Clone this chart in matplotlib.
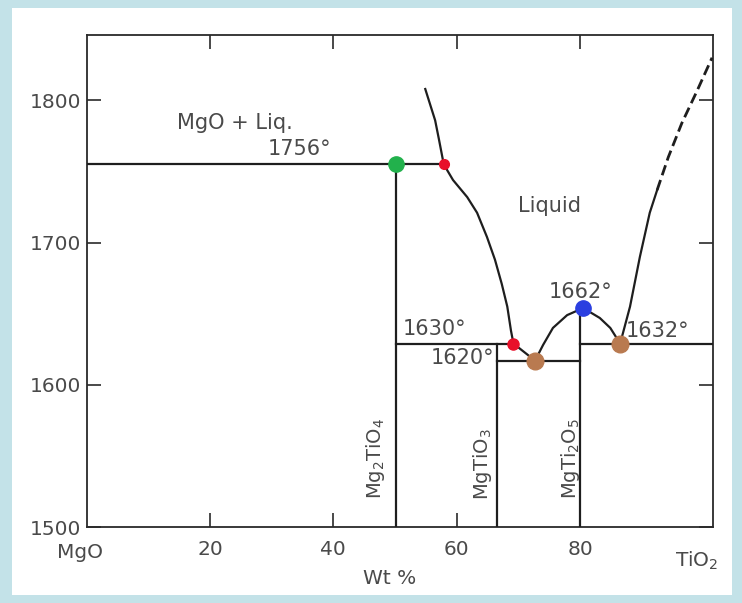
import matplotlib
matplotlib.use("Agg")
import matplotlib.pyplot as plt
from matplotlib.patches import Rectangle

# ---- data (wt% TiO2, temperature °C) ----
xticks_vals = [20, 40, 60, 80]
xtick_labels = ["20", "40", "60", "80"]
yticks_vals = [1500, 1600, 1700, 1800]
ytick_labels = ["1500", "1600", "1700", "1800"]

# MgO-side liquidus (solid line)
liq_left_x = [54.9, 55.7, 56.5, 57.1, 57.9, 59.4, 61.7, 63.3, 64.9, 66.2, 67.3,
              68.2, 68.8, 69.2, 72.7]
liq_left_y = [1808, 1797, 1786, 1773, 1755, 1744, 1732, 1721, 1704, 1688, 1671,
              1655, 1638, 1629, 1617]
# MgTi2O5 dome
dome_x = [72.7, 74.0, 75.6, 77.9, 80.5, 83.2, 84.9, 86.5]
dome_y = [1617, 1628, 1640, 1649, 1654, 1647, 1640, 1629]
# TiO2-side liquidus (solid and dashed)
liq_right_x = [86.5, 88.1, 89.7, 91.3, 92.5]
liq_right_y = [1629, 1655, 1690, 1721, 1737]
liq_dash_x = [92.5, 94.3, 96.5, 99.0, 101.4]
liq_dash_y = [1737, 1760, 1784, 1807, 1830]

# isotherms: (x_start, x_end, T)
iso_1756 = (0, 57.9, 1755)
iso_1630 = (50.2, 69.2, 1629)
iso_1620 = (66.6, 80.0, 1617)
iso_1632 = (80.0, 101.6, 1629)

# compound verticals: (x, T_top)
comp_names = ["Mg$_2$TiO$_4$", "MgTiO$_3$", "MgTi$_2$O$_5$"]
comp_x = [50.2, 66.6, 80.0]
comp_top = [1755, 1629, 1654]

# colored points
pt_x = [50.2, 57.9, 69.2, 72.7, 80.5, 86.5]
pt_y = [1755, 1755, 1629, 1617, 1654, 1629]
pt_c = ["#22b14c", "#e8102a", "#e8102a", "#b97a50", "#2b3fe0", "#b97a50"]
pt_s = [11, 7, 8, 12, 11, 12]

# annotations
ann_text = ["MgO + Liq.", "1756°", "Liquid", "1662°", "1630°", "1620°", "1632°"]
ann_x = [24.0, 34.5, 75.0, 80.0, 56.4, 61.0, 92.5]
ann_y = [1784, 1766, 1726, 1665, 1639, 1619, 1638]

# ---- figure ----
fig = plt.figure(figsize=(7.42, 6.03), dpi=100)
fig.patch.set_facecolor("#c3e2e8")
fig.patches.append(Rectangle((12 / 742, 8 / 603), (732 - 12) / 742, (595 - 8) / 603,
                             transform=fig.transFigure, facecolor="white",
                             edgecolor="none", zorder=-10))

ax = fig.add_axes([0.1168, 0.1260, 0.8445, 0.8160])
ax.set_zorder(5)
ax.set_facecolor("white")
ax.set_xlim(0, 101.6)
ax.set_ylim(1500, 1846)

lc = "#1e1e1e"
lw = 1.6
tc = "#4a4a4a"

for s in ax.spines.values():
    s.set_linewidth(1.3)
    s.set_color("#2a2a2a")

ax.set_xticks(xticks_vals)
ax.set_xticklabels(xtick_labels)
ax.set_yticks(yticks_vals)
ax.set_yticklabels(ytick_labels)
ax.tick_params(axis="both", direction="in", length=10, width=1.2, color="#2a2a2a",
               labelsize=14.5, labelcolor=tc, top=True, right=True)
ax.tick_params(axis="x", pad=9)
ax.tick_params(axis="y", pad=4)

# curves
ax.plot(liq_left_x, liq_left_y, color=lc, lw=lw, zorder=3)
ax.plot(dome_x, dome_y, color=lc, lw=lw, zorder=3)
ax.plot(liq_right_x, liq_right_y, color=lc, lw=lw, zorder=3)
ax.plot(liq_dash_x, liq_dash_y, color=lc, lw=2.0, dashes=(3.8, 1.8), zorder=3)

for (x0, x1, t) in [iso_1756, iso_1630, iso_1620, iso_1632]:
    ax.plot([x0, x1], [t, t], color=lc, lw=lw, zorder=3)

for x, top in zip(comp_x, comp_top):
    ax.plot([x, x], [1500, top], color=lc, lw=lw, zorder=3)

for x, y, c, s in zip(pt_x, pt_y, pt_c, pt_s):
    ax.plot([x], [y], marker="o", ms=s, color=c, mec=c, zorder=5, linestyle="none")

for t, x, y in zip(ann_text, ann_x, ann_y):
    ax.text(x, y, t, ha="center", va="center", fontsize=15, color=tc)

comp_label_x = [46.8, 64.1, 78.4]
comp_label_y = [1548, 1544, 1548]
for name, x, y in zip(comp_names, comp_label_x, comp_label_y):
    ax.text(x, y, name, rotation=90, ha="center", va="center", fontsize=14, color=tc)

fig.text(80 / 742, 1 - 553 / 603, "MgO", ha="center", va="center", fontsize=14.5, color=tc)
fig.text(697 / 742, 1 - 561 / 603, "TiO$_2$", ha="center", va="center", fontsize=14.5, color=tc)
fig.text(390 / 742, 1 - 578 / 603, "Wt %", ha="center", va="center", fontsize=14.5, color=tc)

fig.savefig("out.png", dpi=100, facecolor=fig.get_facecolor())
